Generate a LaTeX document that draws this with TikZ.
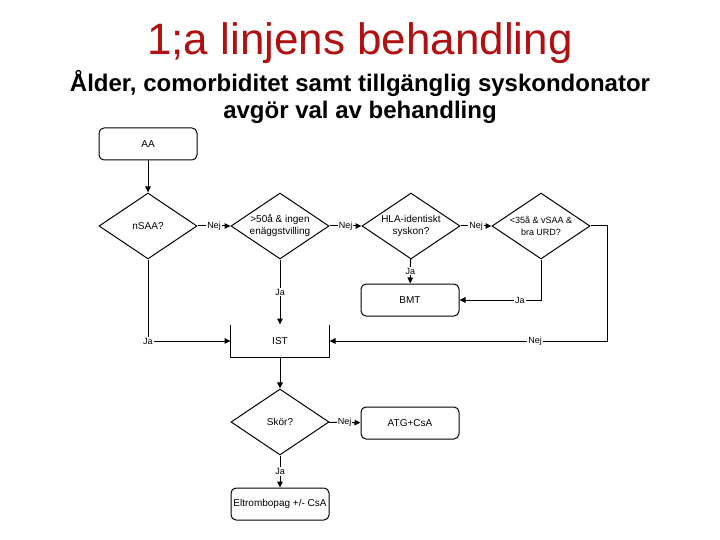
\documentclass[tikz,border=0pt]{standalone}
\usepackage{fontspec}
\setmainfont{Liberation Sans}
\usepackage{xcolor}
\usetikzlibrary{arrows.meta,shapes.geometric,positioning}
\definecolor{titlered}{RGB}{176,16,16}

\begin{document}
\begin{tikzpicture}[x=1pt,y=-1pt,>={Triangle[length=6pt,width=5.5pt]},
  process/.style={draw,line width=1pt,rounded corners=5pt,minimum width=98pt,minimum height=32pt,inner sep=0pt,font=\fontsize{10}{12}\selectfont},
  decision/.style={draw,line width=1pt,diamond,minimum width=98pt,minimum height=66pt,inner sep=0pt},
  dtext/.style={align=center,font=\fontsize{10}{12}\selectfont},
  flow/.style={->,line width=1pt},
  edgelab/.style={fill=white,inner sep=1pt,font=\fontsize{9}{10}\selectfont}]
  \useasboundingbox (0,0) rectangle (720,540);
  % heading
  \node[titlered,font=\fontsize{44}{48}\selectfont,anchor=base] (title) at (360,55) {1;a linjens behandling};
  \node[font=\bfseries\fontsize{24}{27}\selectfont,align=center] (subtitle) at (360,97)
    {Ålder, comorbiditet samt tillgänglig syskondonator\\avgör val av behandling};
  % boxes
  \node[process] (aa) at (148,144) {AA};
  \node[decision,label={[dtext]center:nSAA?}] (nsaa) at (148,226) {};
  \node[decision,label={[dtext]center:{>50å \& ingen\\enäggstvilling}}] (age50) at (280,226) {};
  \node[decision,label={[dtext]center:{HLA-identiskt\\syskon?}}] (hla) at (411,226) {};
  \node[decision,label={[dtext,font=\fontsize{9}{12}\selectfont]center:{<35å \& vSAA \&\\bra URD?}}] (urd) at (541,226) {};
  \node[process] (bmt) at (410,300) {BMT};
  \node[process,draw=none] (ist) at (280,341) {IST};
  \draw[line width=1pt] (ist.north west) -- (ist.south west) -- (ist.south east) -- (ist.north east);
  \node[decision,label={[dtext]center:Skör?}] (skor) at (280,422) {};
  \node[process] (atg) at (410,423) {ATG+CsA};
  \node[process] (eltro) at (280,504) {Eltrombopag +/- CsA};
  % connectors
  \draw[flow] (aa) -- (nsaa);
  \draw[flow] (nsaa) -- node[edgelab]{Nej} (age50);
  \draw[flow] (age50) -- node[edgelab]{Nej} (hla);
  \draw[flow] (hla) -- node[edgelab]{Nej} (urd);
  \draw[flow] (nsaa.south) |- node[edgelab]{Ja} (ist.west);
  \draw[flow] (age50) -- node[edgelab]{Ja} (ist);
  \draw[flow] (hla) -- node[edgelab]{Ja} (bmt);
  \draw[flow] (urd.south) |- node[edgelab,pos=0.63]{Ja} (bmt.east);
  \draw[flow] (urd.east) -- ++(17,0) |- node[edgelab,pos=0.63]{Nej} (ist.east);
  \draw[flow] (ist) -- (skor);
  \draw[flow] (skor) -- node[edgelab]{Nej} (atg);
  \draw[flow] (skor) -- node[edgelab]{Ja} (eltro);
\end{tikzpicture}
\end{document}
